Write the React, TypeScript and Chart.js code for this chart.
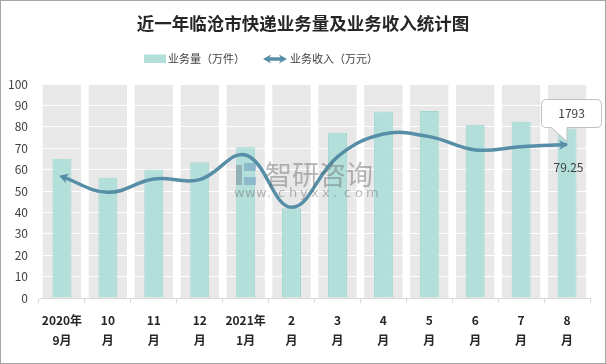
import React, { useEffect, useRef } from 'react';
import { Chart, registerables } from 'chart.js';

Chart.register(...registerables);

const TITLE = '近一年临沧市快递业务量及业务收入统计图';
const LEGEND_BAR = '业务量（万件）';
const LEGEND_LINE = '业务收入（万元）';
const categories: string[][] = [
  ['2020年', '9月'], ['10', '月'], ['11', '月'], ['12', '月'],
  ['2021年', '1月'], ['2', '月'], ['3', '月'], ['4', '月'],
  ['5', '月'], ['6', '月'], ['7', '月'], ['8', '月'],
];
const volume = [65.1, 56.2, 60.1, 63.4, 70.4, 41.9, 77.2, 87.1, 87.4, 81.0, 82.4, 79.25];
const revenue = [1418, 1235, 1390, 1383, 1670, 1060, 1650, 1915, 1885, 1730, 1768, 1793];
const Y_MIN = 0;
const Y_MAX = 100;
const Y_STEP = 10;
const Y2_MAX = 2500;

const BAR_FILL = '#b3dfdb';
const BAR_BORDER = '#a2d7d2';
const LINE_COLOR = '#578ea7';
const BAND = '#e8e8e8';
const FONT = '"Noto Sans CJK SC", "Noto Sans", sans-serif';

function arrowHead(ctx: CanvasRenderingContext2D, tx: number, ty: number, dx: number, dy: number, len: number, half: number) {
  const l = Math.hypot(dx, dy) || 1;
  const ux = dx / l, uy = dy / l;
  const bx = tx - ux * len, by = ty - uy * len;
  ctx.beginPath();
  ctx.moveTo(tx, ty);
  ctx.lineTo(bx - uy * half, by + ux * half);
  ctx.lineTo(tx - ux * len * 0.7, ty - uy * len * 0.7);
  ctx.lineTo(bx + uy * half, by - ux * half);
  ctx.closePath();
  ctx.fill();
}

const decorPlugin = {
  id: 'decor',
  beforeDraw(chart: any) {
    const { ctx, chartArea } = chart;
    const x = chart.scales.x;
    ctx.save();
    ctx.fillStyle = '#ffffff';
    ctx.fillRect(0, 0, chart.width, chart.height);
    const w = (chartArea.right - chartArea.left) / categories.length;
    ctx.fillStyle = BAND;
    for (let i = 0; i < categories.length; i++) {
      const c = x.getPixelForValue(i);
      const bw = w * 0.833;
      ctx.fillRect(c - bw / 2, chartArea.top, bw, chartArea.bottom - chartArea.top);
    }
    ctx.restore();
  },
  afterDatasetsDraw(chart: any) {
    const { ctx } = chart;
    const meta = chart.getDatasetMeta(1);
    const pts = meta.data;
    ctx.save();
    ctx.fillStyle = LINE_COLOR;
    // start arrow
    const p0 = pts[0];
    const n0 = pts[1];
    let c2x = p0.cp2x ?? n0.x, c2y = p0.cp2y ?? n0.y;
    if (Math.abs(c2x - p0.x) < 0.01 && Math.abs(c2y - p0.y) < 0.01) { c2x = n0.x; c2y = n0.y; }
    let dx = p0.x - c2x, dy = p0.y - c2y;
    let l = Math.hypot(dx, dy) || 1;
    arrowHead(ctx, p0.x + (dx / l) * 3, p0.y + (dy / l) * 3, dx, dy, 9, 5);
    // end arrow
    const pn = pts[pts.length - 1];
    const pm = pts[pts.length - 2];
    let c1x = pn.cp1x ?? pm.x, c1y = pn.cp1y ?? pm.y;
    if (Math.abs(c1x - pn.x) < 0.01 && Math.abs(c1y - pn.y) < 0.01) { c1x = pm.x; c1y = pm.y; }
    dx = pn.x - c1x; dy = pn.y - c1y;
    l = Math.hypot(dx, dy) || 1;
    arrowHead(ctx, pn.x + (dx / l) * 1, pn.y + (dy / l) * 1, dx, dy, 9, 5);

    // watermark
    ctx.globalAlpha = 0.45;
    ctx.fillStyle = '#6b7d8c';
    ctx.fillRect(236, 165, 6, 20);
    ctx.fillStyle = '#5d8fb5';
    ctx.fillRect(244, 163, 12, 8);
    ctx.fillRect(244, 177, 12, 8);
    ctx.fillStyle = '#666666';
    ctx.font = `27px ${FONT}`;
    ctx.textAlign = 'left';
    ctx.textBaseline = 'middle';
    ctx.fillText('智研咨询', 265, 175);
    ctx.font = `13px "DejaVu Sans", sans-serif`;
    const wm = 'www.chyxx.com';
    for (let i = 0; i < wm.length; i++) {
      ctx.fillText(wm[i], 234 + i * 11, 194);
    }
    ctx.restore();
  },
  afterDraw(chart: any) {
    const { ctx } = chart;
    const meta = chart.getDatasetMeta(1);
    const pn = meta.data[meta.data.length - 1];
    const px = pn.x, py = pn.y;
    ctx.save();
    // callout
    const bx = px - 25.5, by = py - 45, bw = 60, bh = 28, r = 5;
    ctx.beginPath();
    ctx.moveTo(bx + r, by);
    ctx.lineTo(bx + bw - r, by);
    ctx.quadraticCurveTo(bx + bw, by, bx + bw, by + r);
    ctx.lineTo(bx + bw, by + bh - r);
    ctx.quadraticCurveTo(bx + bw, by + bh, bx + bw - r, by + bh);
    ctx.lineTo(px, by + bh);
    ctx.lineTo(px, py - 3);
    ctx.lineTo(px - 16, by + bh);
    ctx.lineTo(bx + r, by + bh);
    ctx.quadraticCurveTo(bx, by + bh, bx, by + bh - r);
    ctx.lineTo(bx, by + r);
    ctx.quadraticCurveTo(bx, by, bx + r, by);
    ctx.closePath();
    ctx.fillStyle = '#ffffff';
    ctx.fill();
    ctx.strokeStyle = '#bfbfbf';
    ctx.lineWidth = 1;
    ctx.stroke();
    ctx.fillStyle = '#404040';
    ctx.font = `12px ${FONT}`;
    ctx.textAlign = 'center';
    ctx.textBaseline = 'middle';
    ctx.fillText(String(revenue[revenue.length - 1]), px + 4.5, py - 31);
    ctx.fillText(String(volume[volume.length - 1]), px + 1.5, py + 22.5);

    // title
    ctx.fillStyle = '#262626';
    ctx.font = `bold 17.5px ${FONT}`;
    ctx.fillText(TITLE, 303, 23);

    // legend
    ctx.fillStyle = BAR_FILL;
    ctx.fillRect(144, 54.5, 22, 8.5);
    ctx.fillStyle = '#404040';
    ctx.font = `11px ${FONT}`;
    ctx.textAlign = 'left';
    ctx.fillText(LEGEND_BAR, 168, 59);
    ctx.strokeStyle = LINE_COLOR;
    ctx.lineWidth = 3.5;
    ctx.beginPath();
    ctx.moveTo(268, 59);
    ctx.lineTo(282, 59);
    ctx.stroke();
    ctx.fillStyle = LINE_COLOR;
    arrowHead(ctx, 263, 59, -1, 0, 8, 4.5);
    arrowHead(ctx, 287, 59, 1, 0, 8, 4.5);
    ctx.fillStyle = '#404040';
    ctx.fillText(LEGEND_LINE, 290, 59);

    // border
    ctx.strokeStyle = '#a6a6a6';
    ctx.lineWidth = 1;
    ctx.strokeRect(0.5, 0.5, chart.width - 1, chart.height - 1);
    ctx.restore();
  },
};

export default function App() {
  const ref = useRef<HTMLCanvasElement>(null);
  useEffect(() => {
    document.body.style.margin = '0';
    const chart = new Chart(ref.current as HTMLCanvasElement, {
      type: 'bar',
      data: {
        labels: categories,
        datasets: [
          {
            type: 'bar',
            label: LEGEND_BAR,
            data: volume,
            backgroundColor: BAR_FILL,
            borderColor: BAR_BORDER,
            borderWidth: 1,
            barPercentage: 0.414,
            categoryPercentage: 1,
            yAxisID: 'y',
            order: 2,
          },
          {
            type: 'line',
            label: LEGEND_LINE,
            data: revenue,
            borderColor: LINE_COLOR,
            borderWidth: 3.5,
            tension: 0.4,
            pointRadius: 0,
            fill: false,
            yAxisID: 'y1',
            order: 1,
          },
        ],
      },
      options: {
        animation: false,
        responsive: false,
        devicePixelRatio: 1,
        layout: { padding: { top: 84, right: 16, left: 0, bottom: 0 } },
        plugins: {
          legend: { display: false },
          title: { display: false },
          tooltip: { enabled: false },
        },
        scales: {
          x: {
            type: 'category',
            offset: true,
            grid: { offset: true, drawOnChartArea: false, color: '#d9d9d9', tickLength: 5 },
            border: { display: true, color: '#d9d9d9' },
            ticks: {
              autoSkip: false,
              maxRotation: 0,
              padding: 7,
              color: '#262626',
              font: { family: FONT, size: 12, weight: 'bold', lineHeight: 1.7 },
            },
            afterFit(s: any) { s.height = 66; },
          },
          y: {
            min: Y_MIN,
            max: Y_MAX,
            position: 'left',
            ticks: { stepSize: Y_STEP, padding: 11, color: '#404040', font: { family: FONT, size: 12 } },
            grid: { color: '#ffffff', lineWidth: 1, drawTicks: false },
            border: { display: false },
            afterFit(s: any) { s.width = 39; },
          },
          y1: {
            min: 0,
            max: Y2_MAX,
            display: false,
            position: 'right',
            grid: { display: false },
          },
        },
      },
      plugins: [decorPlugin],
    } as any);
    return () => chart.destroy();
  }, []);
  return (
    <div style={{ position: 'absolute', left: 0, top: 0, width: 606, height: 364 }}>
      <canvas ref={ref} width={606} height={364} style={{ display: 'block' }} />
    </div>
  );
}
